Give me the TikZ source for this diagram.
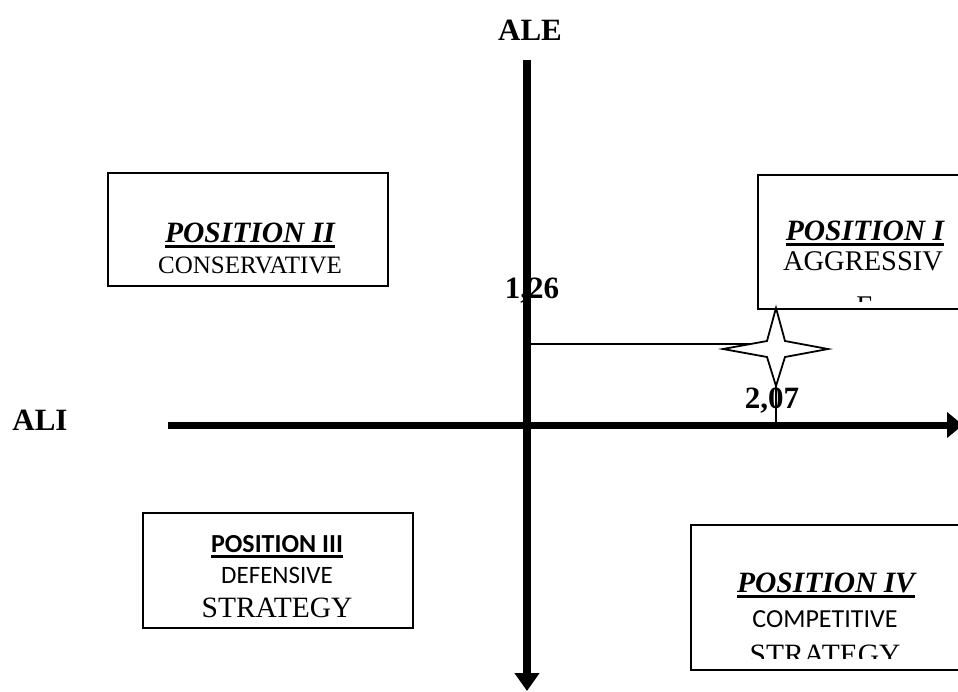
\documentclass[tikz,border=0pt]{standalone}
\usepackage{fontspec}
\setmainfont{Liberation Serif}
\newfontfamily\calibri{Carlito}
\usetikzlibrary{arrows.meta}

% underline drawn as a solid bar below the text
\newcommand\ulbar[1]{\leavevmode\setbox0\hbox{#1}\rlap{\raisebox{-6pt}{\rule{\wd0}{2.8pt}}}\box0}

\begin{document}
\begin{tikzpicture}[x=1pt,y=-1pt,
  axis/.style={line width=#1, draw=black},
  quadbox/.style={draw=black, line width=1.6pt, fill=white, rectangle, inner sep=0pt},
  txt/.style={anchor=base, inner sep=0pt},
  axlabel/.style={txt, font=\fontsize{31}{31}\selectfont\bfseries},
  thin/.style={line width=2pt}]
\useasboundingbox (0,0) rectangle (958,691);

% axes
\coordinate (aleTop) at (527,60);
\coordinate (aleBot) at (527,691);
\coordinate (aliLeft) at (168,425);
\coordinate (aliRight) at (963,425);
\draw[axis=8pt, -{Triangle[width=24pt,length=18pt]}] (aleTop) -- (aleBot);
\draw[axis=7pt, -{Triangle[width=25pt,length=16pt]}] (aliLeft) -- (aliRight);

\node[axlabel] (ale) at (530,40) {ALE};
\node[axlabel] (ali) at (40,430) {ALI};

% quadrant boxes
\node[quadbox, minimum width=280pt, minimum height=113pt] (pos2) at (248,229.5) {};
\node[quadbox, minimum width=206pt, minimum height=134pt] (pos1) at (861,242) {};
\node[quadbox, minimum width=270pt, minimum height=115pt] (pos3) at (278,570.5) {};
\node[quadbox, minimum width=273pt, minimum height=145pt] (pos4) at (827.5,597.5) {};

% position II
\begin{scope}
  \clip (pos2.north west) rectangle (pos2.south east);
  \node[txt, font=\fontsize{29.5}{29.5}\selectfont\bfseries\itshape] (p2a) at (250,242) {\ulbar{POSITION II}};
  \node[txt, font=\fontsize{25}{25}\selectfont] (p2b) at (250,273) {CONSERVATIVE};
\end{scope}

% position I
\begin{scope}
  \clip (pos1.north west) rectangle ([yshift=8pt]pos1.south east);
  \node[txt, font=\fontsize{29.5}{29.5}\selectfont\bfseries\itshape] (p1a) at (865,240) {\ulbar{POSITION I}};
  \node[txt, font=\fontsize{28.5}{28.5}\selectfont] (p1b) at (863,270) {AGGRESSIV};
  \node[txt, font=\fontsize{28.5}{28.5}\selectfont] (p1c) at (865,315) {E};
\end{scope}

% position III
\begin{scope}
  \clip (pos3.north west) rectangle (pos3.south east);
  \node[txt, font=\fontsize{26}{26}\selectfont\calibri\bfseries] (p3a) at (277,552) {\ulbar{POSITION III}};
  \node[txt, font=\fontsize{25}{25}\selectfont\calibri] (p3b) at (277,583) {DEFENSIVE};
  \node[txt, font=\fontsize{29.5}{29.5}\selectfont] (p3c) at (277,617) {STRATEGY};
\end{scope}

% position IV
\begin{scope}
  \clip (pos4.north west) rectangle ([yshift=12pt]pos4.south east);
  \node[txt, font=\fontsize{29.5}{29.5}\selectfont\bfseries\itshape] (p4a) at (826,592) {\ulbar{POSITION IV}};
  \node[txt, font=\fontsize{26}{26}\selectfont\calibri] (p4b) at (825,627) {COMPETITIVE};
  \node[txt, font=\fontsize{29.5}{29.5}\selectfont] (p4c) at (825,664) {STRATEGY};
\end{scope}

% position marker and its guide lines
\coordinate (star) at (776,349);
\coordinate (ale126) at (531,344);
\draw[thin] (ale126) -- (ale126 -| star);
\draw[thin] (star) -- (star |- aliLeft);
\draw[line width=1.8pt, fill=white, line join=miter]
  ([shift={(0,-41)}]star) -- ([shift={(9,-8)}]star) -- ([shift={(52,0)}]star)
  -- ([shift={(9,8)}]star) -- ([shift={(0,37)}]star) -- ([shift={(-9,8)}]star)
  -- ([shift={(-53,0)}]star) -- ([shift={(-9,-8)}]star) -- cycle;

\node[axlabel] (v126) at (532,298) {1,26};
\node[axlabel] (v207) at (772,408) {2,07};
\end{tikzpicture}
\end{document}
